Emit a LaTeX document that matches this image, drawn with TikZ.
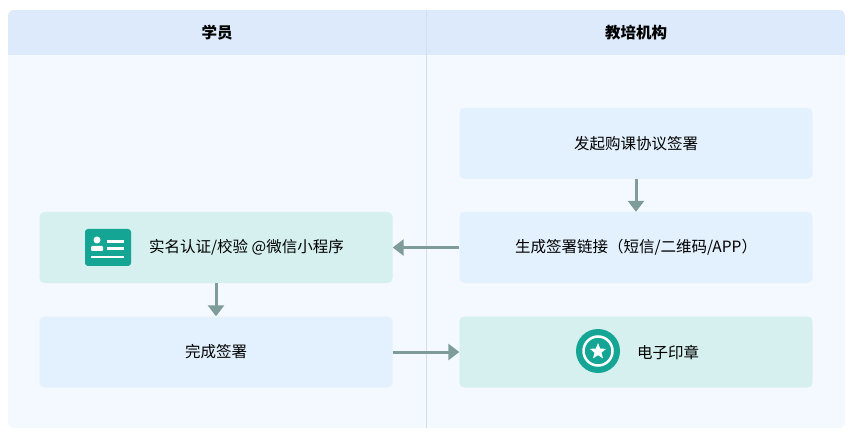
\documentclass[tikz,border=0pt]{standalone}
\usepackage{fontspec}
\setmainfont{Noto Sans CJK SC}
\usetikzlibrary{positioning,arrows.meta,shapes.geometric}
\definecolor{lanebg}{HTML}{F3F9FE}
\definecolor{headbg}{HTML}{DCEAFB}
\definecolor{stepbg}{HTML}{E3F0FD}
\definecolor{mintbg}{HTML}{D5F0EE}
\definecolor{teal}{HTML}{14A595}
\definecolor{flow}{HTML}{7E9C9A}
\definecolor{divider}{HTML}{D3E0EA}

\begin{document}
\begin{tikzpicture}[x=1pt, y=-1pt,
        stepbox/.style={rectangle, fill=stepbg, rounded corners=5pt, minimum width=353pt, minimum height=71pt, align=center, font=\fontsize{15.5}{18}\selectfont},
        mintbox/.style={stepbox, fill=mintbg},
        head/.style={font=\fontsize{15.5}{18}\selectfont\bfseries},
        flowarrow/.style={draw=flow, line width=3pt, -{Triangle[width=16pt, length=11pt]}}
    ]
    \useasboundingbox (0,0) rectangle (850,435);
    \fill[white] (0,0) rectangle (850,435);

    % Lanes
    \fill[lanebg, rounded corners=6pt] (8,10) rectangle (845,428);
    \begin{scope}
        \clip[rounded corners=6pt] (8,10) rectangle (845,428);
        \fill[headbg] (8,10) rectangle (845,55);
    \end{scope}
    \draw[divider, line width=1pt] (426,10) -- (426,428);
    \node[head] (student) at (217,33) {学员};
    \node[head] (school) at (636,33) {教培机构};

    % Steps
    \node[stepbox] (launch) at (636,143.5) {发起购课协议签署};
    \node[stepbox] (link) at (636,247.5) {生成签署链接（短信/二维码/APP）};
    \node[mintbox] (seal) at (636,352) {\hspace*{64pt}电子印章};
    \node[mintbox] (verify) at (216,247.5) {\hspace*{61pt}实名认证/校验 @微信小程序};
    \node[stepbox] (done) at (216,352) {完成签署};

    % Icons
    \fill[teal, rounded corners=3pt] (85,229) rectangle (131,266);
    \fill[white] (97,240) circle (3.5pt);
    \fill[white, rounded corners=1pt] (91,246) rectangle (103,251);
    \fill[white] (107,240) rectangle (124,243);
    \fill[white] (107,247) rectangle (124,250);
    \fill[white] (91,256) rectangle (124,258);
    \fill[teal] (598,351) circle (22pt);
    \draw[white, line width=2.5pt] (598,351) circle (14.5pt);
    \node[star, star points=5, star point ratio=2.3, fill=white, inner sep=0pt, minimum size=17pt] at (598,351.5) {};

    % Flow
    \draw[flowarrow] (launch) -- (link);
    \draw[flowarrow] (link) -- (verify);
    \draw[flowarrow] (verify) -- (done);
    \draw[flowarrow] (done) -- (seal);

\end{tikzpicture}
\end{document}
